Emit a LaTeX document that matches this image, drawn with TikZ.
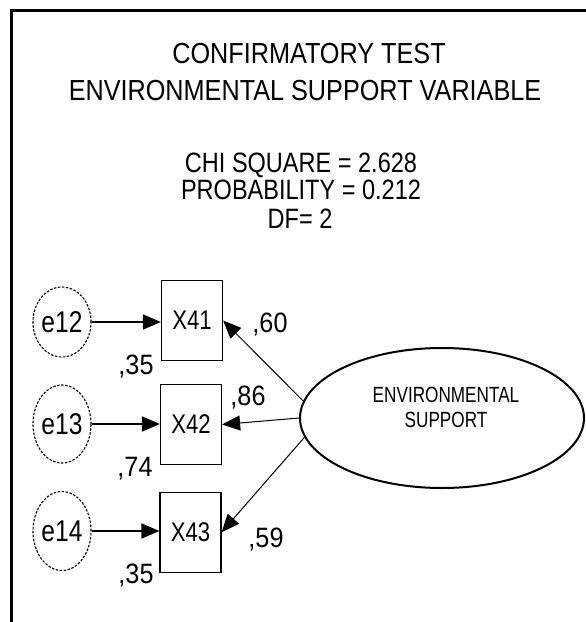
\documentclass[tikz,border=0pt]{standalone}
\usepackage{fontspec}
\setmainfont{Liberation Sans}
\newfontfamily\titlefont[FakeStretch=0.87]{Liberation Sans}
\newfontfamily\chifont[FakeStretch=0.84]{Liberation Sans}
\newfontfamily\narfont[FakeStretch=0.82]{Liberation Sans}
\newfontfamily\coeffont[FakeStretch=0.9]{Liberation Sans}
\newfontfamily\latfont[FakeStretch=0.78]{Liberation Sans}
\usetikzlibrary{arrows.meta,shapes.geometric}
\begin{document}
\begin{tikzpicture}[x=1pt,y=-1pt,
  ttl/.style={inner sep=0pt, text height=21pt, text depth=0pt, font=\titlefont\fontsize{29}{29}\selectfont},
  chi/.style={inner sep=0pt, text height=20pt, text depth=0pt, font=\chifont\fontsize{28}{28}\selectfont},
  obs/.style={draw, line width=1.2pt, minimum width=61pt, minimum height=80pt, inner sep=0pt, font=\narfont\fontsize{27}{27}\selectfont},
  err/.style={draw, ellipse, dash pattern=on 2.5pt off 1.5pt, line width=1.1pt, minimum width=58pt, inner sep=0pt, font=\narfont\fontsize{30}{30}\selectfont},
  lat/.style={draw, ellipse, line width=2pt, minimum width=284pt, minimum height=140pt, inner sep=0pt},
  lattext/.style={inner sep=0pt, align=center, font=\latfont\fontsize{22}{25}\selectfont},
  conn/.style={line width=1pt, -{Triangle[length=18pt,width=15pt]}},
  hconn/.style={line width=1.5pt, -{Triangle[length=18pt,width=15pt]}},
  coef/.style={inner sep=0pt, text height=20pt, text depth=0pt, font=\coeffont\fontsize{28}{28}\selectfont}
]
\useasboundingbox (0,0) rectangle (586,622);
\draw[line width=3pt] (11,622) -- (11,10) -- (586,10);

\node[ttl] (t1) at (309,53) {CONFIRMATORY TEST};
\node[ttl] (t2) at (305,90) {ENVIRONMENTAL SUPPORT VARIABLE};
\node[chi] (c1) at (301,162) {CHI SQUARE = 2.628};
\node[chi] (c2) at (301,189) {PROBABILITY = 0.212};
\node[chi] (c3) at (300,218) {DF= 2};

\node[obs] (X41) at (192,320.5) {X41};
\node[obs] (X42) at (191,424.5) {X42};
\node[obs] (X43) at (190.5,532.3) {X43};

\node[err, minimum height=70pt] (e12) at (62,322) {e12};
\node[err, minimum height=78pt] (e13) at (62,424) {e13};
\node[err, minimum height=79pt] (e14) at (62,531) {e14};

\node[lat] (ES) at (442,418) {};
\node[lattext] (ESt) at (446,407.5) {ENVIRONMENTAL\\SUPPORT};

\draw[hconn] (e12.east) -- (e12.east -| X41.west);
\draw[hconn] (e13.east) -- (e13.east -| X42.west);
\draw[hconn] (e14.east) -- (e14.east -| X43.west);

\draw[conn] (ES.173.5) -- (X41.east);
\draw[conn] (ES.west) -- (X42.east);
\draw[conn] (ES.188) -- (X43.east);

\node[coef] (k1) at (270,322) {,60};
\node[coef] (k2) at (248,395) {,86};
\node[coef] (k3) at (266,537) {,59};
\node[coef] (r1) at (136,364) {,35};
\node[coef] (r2) at (135,466) {,74};
\node[coef] (r3) at (136,573) {,35};
\end{tikzpicture}
\end{document}
